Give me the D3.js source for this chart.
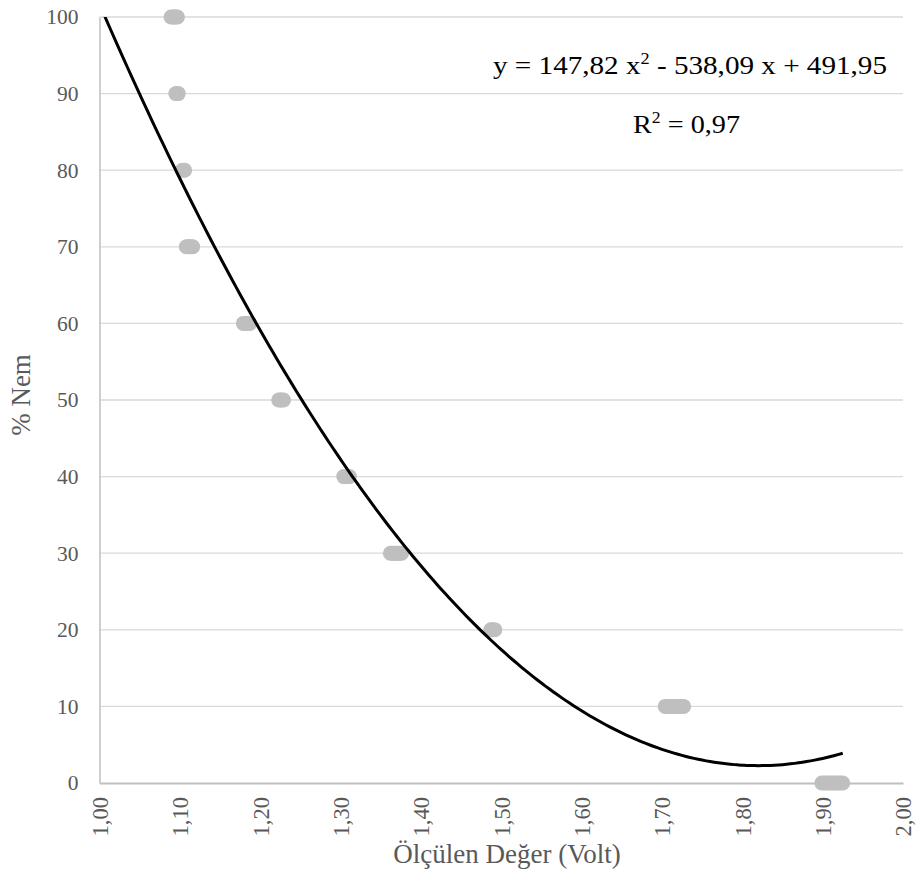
<!DOCTYPE html>
<html>
<head>
<meta charset="utf-8">
<script src="https://cdn.jsdelivr.net/npm/d3@7"></script>
<style>
  body { margin: 0; background: #fff; }
  text { font-family: "Liberation Serif", "Times New Roman", serif; }
</style>
</head>
<body>
<svg id="chart" width="919" height="884"></svg>
<script>
// humidity levels (%) and the voltage readings taken at each level
var nemLevels = [100, 90, 80, 70, 60, 50, 40, 30, 20, 10, 0];
var voltReadings = [
    [1.089, 1.091, 1.093, 1.095, 1.097],
    [1.095, 1.098],
    [1.103, 1.106],
    [1.108, 1.110, 1.112, 1.114, 1.116],
    [1.179, 1.181, 1.183, 1.185, 1.187],
    [1.223, 1.225, 1.227, 1.229],
    [1.304, 1.306, 1.308, 1.311],
    [1.362, 1.364, 1.366, 1.368, 1.370, 1.372, 1.374, 1.376],
    [1.487, 1.489, 1.492],
    [1.704, 1.707, 1.710, 1.713, 1.716, 1.719, 1.722, 1.724, 1.727],
    [1.899, 1.902, 1.905, 1.908, 1.911, 1.914, 1.917, 1.920, 1.922, 1.925]
];
// polynomial trendline y = a x^2 + b x + c
var trendCoef = [147.82, -538.09, 491.95];
var trendParts = ['y = 147,82 x', '2', ' - 538,09 x + 491,95'];
var r2Parts = ['R', '2', ' = 0,97'];
var xTicks = [1.0, 1.1, 1.2, 1.3, 1.4, 1.5, 1.6, 1.7, 1.8, 1.9, 2.0];
var yTicks = [0, 10, 20, 30, 40, 50, 60, 70, 80, 90, 100];

var svg = d3.select('#chart'),
    plotL = 99.5, plotR = 903, plotT = 17, plotB = 783;

var x = d3.scaleLinear().domain([1, 2]).range([plotL, plotR]);
var y = d3.scaleLinear().domain([0, 100]).range([plotB, plotT]);

var points = [];
nemLevels.forEach(function (n, i) {
    voltReadings[i].forEach(function (v) { points.push({v: v, n: n}); });
});

// horizontal gridlines
svg.append('g')
    .selectAll('line')
    .data(yTicks.filter(function (d) { return d > 0; }))
    .enter().append('line')
    .attr('x1', plotL).attr('x2', plotR)
    .attr('y1', function (d) { return y(d); })
    .attr('y2', function (d) { return y(d); })
    .attr('stroke', '#d9d9d9')
    .attr('stroke-width', 1.3);

// y axis
var yAxis = svg.append('g')
    .attr('transform', 'translate(' + plotL + ',0)')
    .call(d3.axisLeft(y).tickValues(yTicks).tickSize(0).tickPadding(21));
yAxis.select('.domain').attr('stroke', '#bfbfbf').attr('stroke-width', 1.5);
yAxis.selectAll('text')
    .attr('font-size', 21.5)
    .attr('font-family', '"Liberation Serif", serif')
    .attr('fill', '#595959');

// x axis, labels turned up
var xAxis = svg.append('g')
    .attr('transform', 'translate(0,' + plotB + ')')
    .call(d3.axisBottom(x).tickValues(xTicks).tickSize(0)
        .tickFormat(function (d) { return d3.format('.2f')(d).replace('.', ','); }));
xAxis.select('.domain').attr('stroke', '#bfbfbf').attr('stroke-width', 2);
xAxis.selectAll('text')
    .attr('font-size', 22.5)
    .attr('font-family', '"Liberation Serif", serif')
    .attr('fill', '#595959')
    .attr('text-anchor', 'end')
    .attr('transform', 'rotate(-90)')
    .attr('x', -14)
    .attr('y', 0)
    .attr('dy', '0.35em');

// markers
svg.append('g')
    .selectAll('circle')
    .data(points)
    .enter().append('circle')
    .attr('cx', function (d) { return x(d.v); })
    .attr('cy', function (d) { return y(d.n); })
    .attr('r', 7.5)
    .attr('fill', '#bfbfbf');

// trendline, clipped to the plot area
svg.append('clipPath').attr('id', 'plotClip')
    .append('rect')
    .attr('x', plotL).attr('y', plotT)
    .attr('width', plotR - plotL).attr('height', plotB - plotT);

var xs = d3.range(1.0, 1.9251, 0.005);
var line = d3.line()
    .x(function (d) { return x(d); })
    .y(function (d) { return y(trendCoef[0] * d * d + trendCoef[1] * d + trendCoef[2]); })
    .curve(d3.curveMonotoneX);

svg.append('path')
    .datum(xs)
    .attr('clip-path', 'url(#plotClip)')
    .attr('d', line)
    .attr('fill', 'none')
    .attr('stroke', '#000')
    .attr('stroke-width', 3);

// equation labels, with a raised small 2
function eqLabel(parts, px, py, len) {
    var t = svg.append('text')
        .attr('x', px).attr('y', py)
        .attr('font-size', 25.5)
        .attr('fill', '#000')
        .attr('textLength', len)
        .attr('lengthAdjust', 'spacingAndGlyphs');
    t.append('tspan').text(parts[0]);
    t.append('tspan').attr('font-size', 16).attr('dy', -10).text(parts[1]);
    t.append('tspan').attr('dy', 10).text(parts[2]);
}
eqLabel(trendParts, 493, 74, 394);
eqLabel(r2Parts, 633, 133, 107);

// axis titles
svg.append('text')
    .attr('x', 507).attr('y', 863)
    .attr('text-anchor', 'middle')
    .attr('font-size', 27)
    .attr('fill', '#595959')
    .text('Ölçülen Değer (Volt)');
svg.append('text')
    .attr('transform', 'translate(30,395) rotate(-90)')
    .attr('text-anchor', 'middle')
    .attr('font-size', 27)
    .attr('fill', '#595959')
    .text('% Nem');
</script>
</body>
</html>
